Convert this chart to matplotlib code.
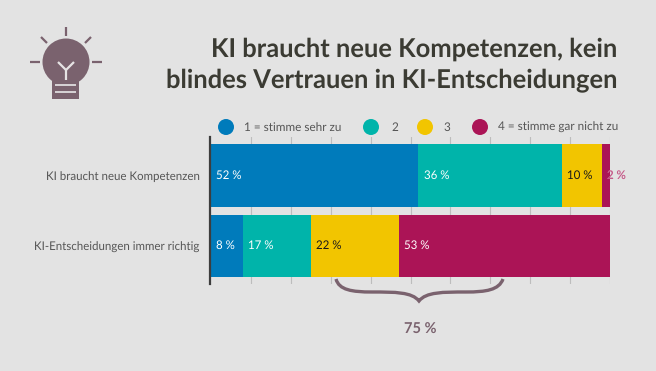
import matplotlib
matplotlib.use('Agg')
import matplotlib.pyplot as plt
from matplotlib.patches import Circle, PathPatch, Rectangle
from matplotlib.path import Path

categories = ['KI braucht neue Kompetenzen', 'KI-Entscheidungen immer richtig']
series_names = ['1 = stimme sehr zu', '2', '3', '4 = stimme gar nicht zu']
values = [[52, 8], [36, 17], [10, 22], [2, 53]]
colors = ['#007bbb', '#00b4aa', '#f2c500', '#ab1456']
label_colors = ['white', 'white', '#1a1a1a', 'white']
title_lines = ['KI braucht neue Kompetenzen, kein', 'blindes Vertrauen in KI-Entscheidungen']
brace_label = '75 %'

bg = '#e3e3e3'
bulb = '#7a626e'
text_grey = '#555555'
plt.rcParams['font.family'] = ['Lato', 'DejaVu Sans']
plt.rcParams['text.hinting'] = 'none'

fig = plt.figure(figsize=(6.56, 3.71), dpi=100, facecolor=bg)

# overlay in pixel coordinates for the icon, legend and brace
over = fig.add_axes([0, 0, 1, 1], zorder=3)
over.set_xlim(0, 656)
over.set_ylim(371, 0)
over.axis('off')

ax = fig.add_axes([211 / 656, (371 - 284) / 371, 399 / 656, 147 / 371], zorder=2)
ax.set_facecolor('none')
left = [0, 0]
for i in range(4):
    ax.barh([0, 1], values[i], left=left, height=0.89, color=colors[i], zorder=2)
    for j in range(2):
        ax.annotate(f'{values[i][j]} %', (left[j], j), xytext=(3.8, 0), textcoords='offset points',
                    color=label_colors[i], fontsize=8.3, va='center', zorder=4, annotation_clip=False)
    left = [left[0] + values[i][0], left[1] + values[i][1]]
# the small 2 % label spills over the end of the bar, doubled in the bar colour
ax.annotate('2 %', (98, 0), xytext=(3.8, 0), textcoords='offset points', color=colors[3], alpha=0.7,
            fontsize=8.3, fontweight='bold', va='center', zorder=5, annotation_clip=False)

ax.set_xlim(0, 100)
ax.set_ylim(1.539, -0.546)
ax.set_xticks(range(10, 101, 10))
ax.set_xticklabels([])
ax.set_yticks([0, 1])
ax.set_yticklabels(categories)
ax.tick_params(axis='y', length=0, pad=7.5, labelsize=8.3, labelcolor=text_grey)
ax.tick_params(axis='x', length=0)
ax.grid(axis='x', color='#bdbdbd', lw=0.8, zorder=1)
ax.set_axisbelow(True)
for s in ['top', 'right', 'bottom']:
    ax.spines[s].set_visible(False)
ax.spines['left'].set_color('#3d3d3d')
ax.spines['left'].set_linewidth(1.6)
ax.spines['left'].set_position(('outward', 0.7))

# title
over.text(617, 49, title_lines[0], ha='right', va='center', fontsize=18.4, fontweight='bold', color='#3b3b33')
over.text(617, 81, title_lines[1], ha='right', va='center', fontsize=18.4, fontweight='bold', color='#3b3b33')

# legend
circle_x = [226, 371, 425, 480]
text_x = [244, 391, 444, 498]
for i in range(4):
    over.add_patch(Circle((circle_x[i], 127), 8, color=colors[i], lw=0))
    over.text(text_x[i], 127.5, series_names[i], fontsize=8.5, color=text_grey, va='center')

# bulb icon
over.add_patch(Circle((66, 62), 23.5, color=bulb, lw=0))
over.add_patch(Rectangle((52, 81), 27, 18, color=bulb, lw=0))
for y in [84.5, 91.5]:
    over.plot([55, 76], [y + 0.5, y + 0.5], color='#d8d4d6', lw=1.4, solid_capstyle='butt')
over.plot([66, 66], [70, 80], color='#e6e3e4', lw=1.6, solid_capstyle='butt')
over.plot([58, 66, 74], [62, 70, 62], color='#e6e3e4', lw=1.6, solid_capstyle='butt')
for x0, y0, x1, y1 in [(66, 27, 66, 36), (41, 37, 47, 43), (91, 37, 85, 43), (30, 62, 40, 62), (92, 62, 102, 62)]:
    over.plot([x0, x1], [y0, y1], color=bulb, lw=1.6, solid_capstyle='butt')

# brace under the two lower groups
verts = [(336, 279), (339, 290), (352, 292), (372, 292),
         (395, 292), (412, 292), (419, 301),
         (426, 292), (443, 292), (466, 292),
         (486, 292), (499, 290), (503, 279)]
codes = [Path.MOVETO] + [Path.CURVE4] * 12
over.add_patch(PathPatch(Path(verts, codes), fc='none', ec=bulb, lw=2.4))
over.text(420, 329.5, brace_label, ha='center', va='center', fontsize=10.5, fontweight='bold', color=bulb)

fig.savefig('out.png', dpi=100, facecolor=bg)
